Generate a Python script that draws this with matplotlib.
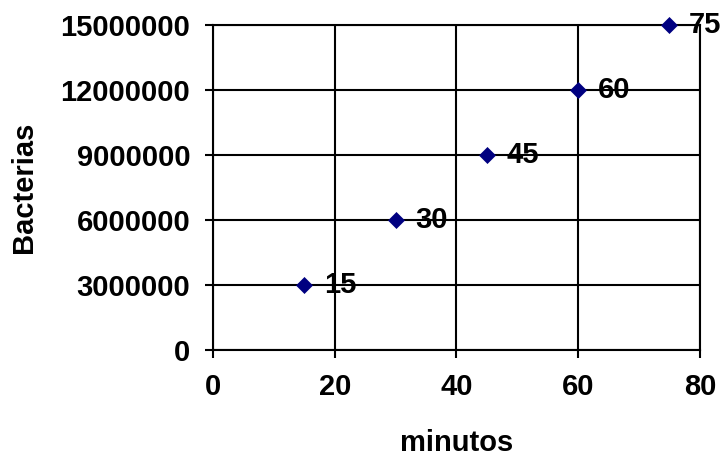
import matplotlib.pyplot as plt

# bacterias vs minutos
minutos = [15, 30, 45, 60, 75]
bacterias = [3000000, 6000000, 9000000, 12000000, 15000000]
etiquetas = ["15", "30", "45", "60", "75"]

xticks = [0, 20, 40, 60, 80]
yticks = [0, 3000000, 6000000, 9000000, 12000000, 15000000]

plt.rcParams['font.family'] = ['Liberation Sans', 'DejaVu Sans']
plt.rcParams['font.weight'] = 'bold'

fig = plt.figure(figsize=(7.2, 4.59), dpi=100)
ax = fig.add_axes([0.296, 0.2375, 0.676, 0.708])

ax.plot(minutos, bacterias, linestyle='none', marker='D', markersize=8,
        color='#000080', markeredgewidth=0.5, zorder=5, clip_on=False)

for x, y, t in zip(minutos, bacterias, etiquetas):
    ax.annotate(t, (x, y), xytext=(14, 0), textcoords='offset points',
                va='center', ha='left', fontsize=21, fontweight='bold', zorder=6)

ax.set_xlim(0, 80)
ax.set_ylim(0, 15000000)
ax.set_xticks(xticks)
ax.set_xticklabels([str(v) for v in xticks])
ax.set_yticks(yticks)
ax.set_yticklabels([str(v) for v in yticks])

ax.grid(True, color='black', linewidth=1.5)
ax.set_axisbelow(True)
for s in ax.spines.values():
    s.set_linewidth(1.5)
ax.tick_params(direction='out', length=5.5, width=1.5, labelsize=21, pad=11)

ax.set_xlabel('minutos', fontsize=21, fontweight='bold', labelpad=20)
ax.set_ylabel('Bacterias', fontsize=21, fontweight='bold', labelpad=16)

fig.savefig('out.png', dpi=100)
